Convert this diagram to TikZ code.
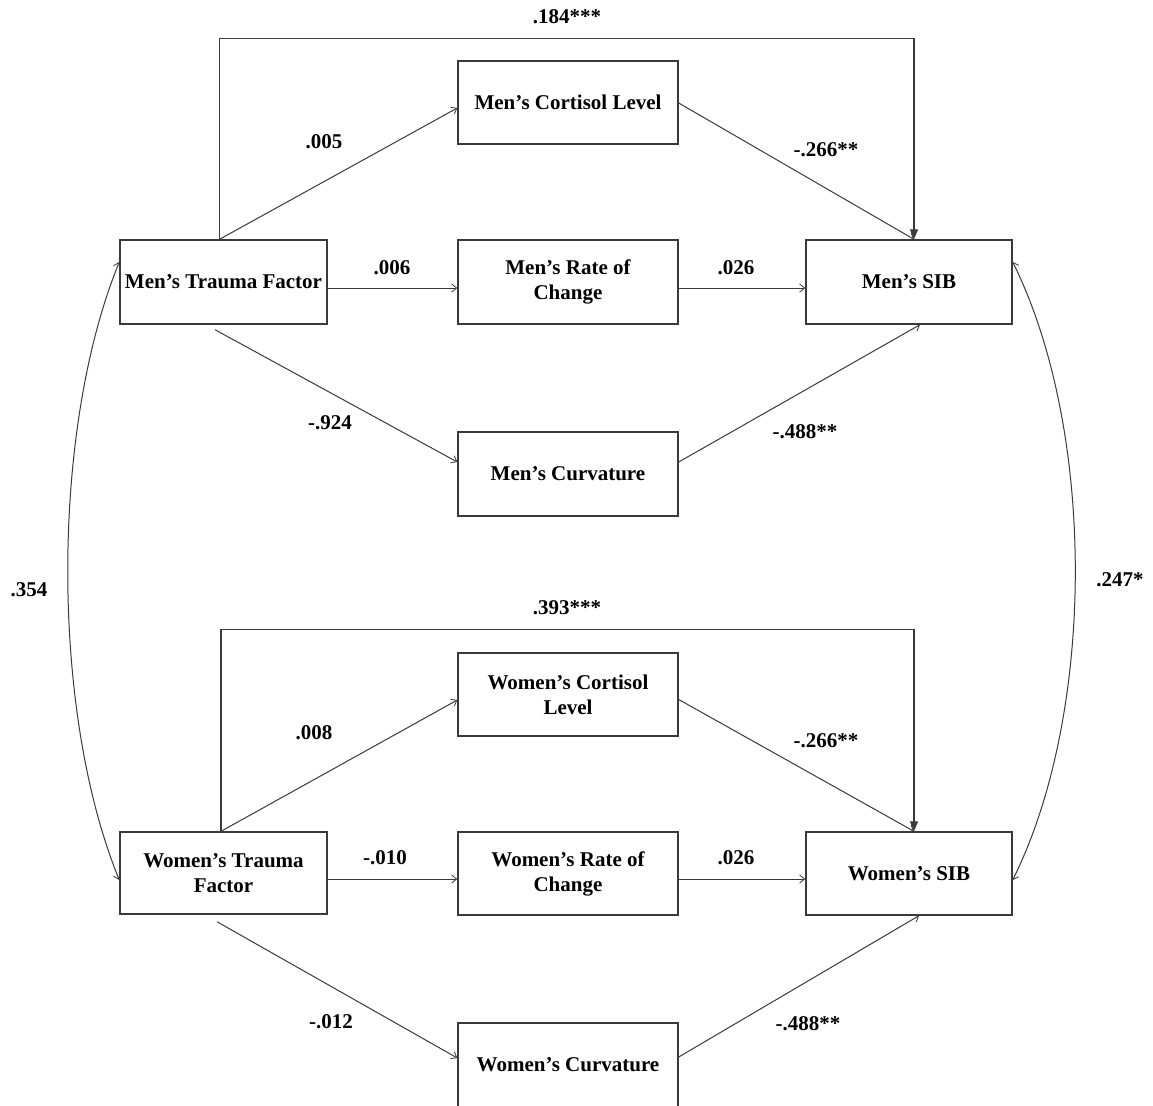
\documentclass[tikz,border=0pt]{standalone}
\usepackage{fontspec}
\setmainfont{Liberation Serif}
\usetikzlibrary{arrows.meta,calc}
\definecolor{ln}{HTML}{3A3A3A}
\tikzset{
  box/.style={draw=ln,line width=1.4pt,inner sep=0pt,align=center,font=\fontsize{21}{25}\selectfont\bfseries,text=black},
  lbl/.style={inner sep=0pt,font=\fontsize{21}{25}\selectfont\bfseries,text=black},
  path/.style={draw=ln,line width=1pt,-{Straight Barb[length=5pt,width=8pt,line width=0.8pt]}},
  direct/.style={draw=ln,line width=1.2pt,-{Triangle[length=10pt,width=8pt]}},
  cov/.style={draw=ln,line width=1pt,{Straight Barb[length=5pt,width=8pt,line width=0.8pt]}-{Straight Barb[length=5pt,width=8pt,line width=0.8pt]}}
}
\begin{document}
\begin{tikzpicture}[x=1pt,y=-1pt]
\clip (0,0) rectangle (1153,1105);
\fill[white] (0,0) rectangle (1153,1105);
% Men
\node[box,minimum width=207pt,minimum height=84pt] (mT) at (223.5,282) {Men’s Trauma Factor};
\node[box,minimum width=220pt,minimum height=83pt] (mC) at (568,102.5) {Men’s Cortisol Level};
\node[box,minimum width=220pt,minimum height=84pt] (mR) at (568,282) {Men’s Rate of\\Change};
\node[box,minimum width=206pt,minimum height=84pt] (mS) at (909,282) {Men’s SIB};
\node[box,minimum width=220pt,minimum height=84pt] (mV) at (568,474) {Men’s Curvature};
% Women
\node[box,minimum width=207pt,minimum height=82pt] (wT) at (223.5,873) {Women’s Trauma\\Factor};
\node[box,minimum width=220pt,minimum height=83pt] (wC) at (568,694.5) {Women’s Cortisol\\Level};
\node[box,minimum width=220pt,minimum height=83pt] (wR) at (568,873.5) {Women’s Rate of\\Change};
\node[box,minimum width=206pt,minimum height=83pt] (wS) at (909,873.5) {Women’s SIB};
\node[box,minimum width=220pt,minimum height=84pt] (wV) at (568,1065) {Women’s Curvature};

% Men paths
\draw[direct] ([xshift=-4pt]mT.north) -- ++(0,-201) -| ([xshift=5pt]mS.north);
\draw[path] ([xshift=-4pt]mT.north) -- ([yshift=-5.5pt]mC.west);
\draw[path] ([yshift=-0.5pt]mC.east) -- ([xshift=5pt]mS.north);
\draw[path] ([yshift=-6pt]mT.east) -- ([yshift=-6pt]mR.west);
\draw[path] ([yshift=-6pt]mR.east) -- ([yshift=-6pt]mS.west);
\draw[path] ([shift={(-8.5pt,-5pt)}]mT.south) -- ([yshift=12pt]mV.west);
\draw[path] ([yshift=12pt]mV.east) -- ([xshift=11pt]mS.south);

% Women paths
\draw[direct] ([xshift=-2.5pt]wT.north) -- ++(0,-202) -| ([xshift=5pt]wS.north);
\draw[path] ([xshift=-2.5pt]wT.north) -- ([yshift=-5.5pt]wC.west);
\draw[path] ([yshift=-5pt]wC.east) -- ([xshift=5pt]wS.north);
\draw[path] ([yshift=-6pt]wT.east) -- ([yshift=-5.5pt]wR.west);
\draw[path] ([yshift=-5.5pt]wR.east) -- ([yshift=-5.5pt]wS.west);
\draw[path] ([shift={(-6.5pt,-7pt)}]wT.south) -- ([yshift=7pt]wV.west);
\draw[path] ([yshift=8pt]wV.east) -- ([xshift=10pt]wS.south);

% Covariances
\draw[cov] ([yshift=20pt]mT.west) .. controls (50.7,430) and (50.7,712) .. ([yshift=-7pt]wT.west);
\draw[cov] ([yshift=20pt]mS.east) .. controls (1096,430) and (1096,712) .. ([yshift=-6.5pt]wS.east);

% Labels
\node[lbl] (l1) at (567,17) {.184***};
\node[lbl] (l2) at (324,142) {.005};
\node[lbl] (l3) at (826,150) {-.266**};
\node[lbl] (l4) at (392,268) {.006};
\node[lbl] (l5) at (736,268) {.026};
\node[lbl] (l6) at (330,423) {-.924};
\node[lbl] (l7) at (805,432) {-.488**};
\node[lbl] (l8) at (29,590) {.354};
\node[lbl] (l9) at (1120,580) {.247*};
\node[lbl] (l10) at (567,608) {.393***};
\node[lbl] (l11) at (314,733) {.008};
\node[lbl] (l12) at (826,741) {-.266**};
\node[lbl] (l13) at (385,858) {-.010};
\node[lbl] (l14) at (736,858) {.026};
\node[lbl] (l15) at (331,1022) {-.012};
\node[lbl] (l16) at (808,1024) {-.488**};
\end{tikzpicture}
\end{document}
